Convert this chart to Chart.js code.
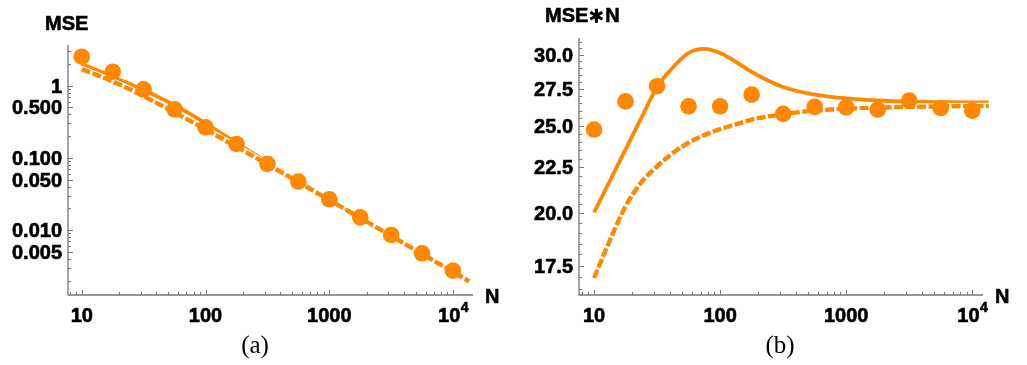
<!DOCTYPE html>
<html>
<head>
<meta charset="utf-8">
<script src="https://cdn.jsdelivr.net/npm/chart.js@4.4.1/dist/chart.umd.min.js"></script>
<style>
  body { margin: 0; background: #fff; }
  #wrap { position: relative; width: 1027px; height: 365px; overflow: hidden; }
  #cvA { position: absolute; left: 0; top: 0; }
  #cvB { position: absolute; left: 500px; top: 0; }
  .cap { position: absolute; top: 331px; width: 60px; text-align: center; font: 25px "Liberation Serif", serif; color: #000; }
</style>
</head>
<body>
<div id="wrap">
  <canvas id="cvA" width="500" height="365"></canvas>
  <canvas id="cvB" width="527" height="365"></canvas>
  <div class="cap" style="left:225px">(a)</div>
  <div class="cap" style="left:750px">(b)</div>
</div>
<script>
// Datos
const nPuntos = [10, 17.78, 31.62, 56.23, 100, 177.8, 316.2, 562.3, 1000, 1778, 3162, 5623, 10000];
const mseSim = [2.52, 1.56, 0.89, 0.471, 0.265, 0.156, 0.0824, 0.0468, 0.0267, 0.0150, 0.00855, 0.00477, 0.00274];
const mseNSim = [24.77, 26.62, 27.67, 26.29, 26.29, 27.08, 25.78, 26.25, 26.22, 26.06, 26.67, 26.17, 26.0];

const nCurva = [10, 13.34, 17.78, 23.71, 31.62, 42.17, 56.23, 74.99, 100, 133.4, 177.8, 237.1, 316.2, 421.7, 562.3, 749.9, 1000, 1778, 3162, 5623, 10000, 13500];
// curvas del panel (a)
const mseTeoria = [2.0, 1.63, 1.325, 1.077, 0.873, 0.688, 0.536, 0.406, 0.301, 0.2208, 0.1614, 0.1185, 0.0873, 0.0647, 0.0482, 0.0359, 0.0268, 0.0150, 0.00841, 0.00473, 0.002655, 0.00197];
const mseAsint = [1.695, 1.399, 1.145, 0.913, 0.713, 0.553, 0.426, 0.326, 0.248, 0.1882, 0.1429, 0.108, 0.0815, 0.0614, 0.0463, 0.0348, 0.0261, 0.01474, 0.0083, 0.00467, 0.00263, 0.00195];
// curvas del panel (b)
const mseNTeoria = [20.04, 21.72, 23.55, 25.52, 27.62, 29.03, 30.13, 30.44, 30.12, 29.45, 28.7, 28.1, 27.62, 27.3, 27.08, 26.93, 26.83, 26.68, 26.6, 26.57, 26.55, 26.55];
const mseNAsint = [16.95, 18.66, 20.36, 21.64, 22.55, 23.33, 23.95, 24.42, 24.8, 25.1, 25.41, 25.61, 25.76, 25.9, 26.0, 26.07, 26.13, 26.2, 26.25, 26.28, 26.3, 26.3];

// Ejes y etiquetas
const xTicks = [10, 100, 1000, 10000];
const xTickLabels = ['10', '100', '1000', '10^4'];
const yTicksA = [1, 0.5, 0.1, 0.05, 0.01, 0.005];
const yTickLabelsA = ['1', '0.500', '0.100', '0.050', '0.010', '0.005'];
const yTicksB = [17.5, 20, 22.5, 25, 27.5, 30];
const yTickLabelsB = ['17.5', '20.0', '22.5', '25.0', '27.5', '30.0'];

const NARANJA = 'rgb(255,136,0)';
const FUENTE = 'bold 20px "Liberation Sans", Arial, sans-serif';

function pares(xs, ys) {
    return xs.map((x, i) => ({ x: x, y: ys[i] }));
}

function menoresLog(min, max, mayores) {
    const res = [];
    for (let d = -4; d <= 5; d++) {
        for (let k = 1; k <= 9; k++) {
            const v = k * Math.pow(10, d);
            if (v >= min && v <= max && !mayores.some(m => Math.abs(m - v) / v < 1e-6)) res.push(v);
        }
    }
    return res;
}

function menoresLin(min, max, paso, mayores) {
    const res = [];
    for (let v = Math.ceil(min / paso) * paso; v <= max; v += paso) {
        if (!mayores.some(m => Math.abs(m - v) < 1e-6)) res.push(v);
    }
    return res;
}

// texto un poco más grueso, como en la figura original
function textoGrueso(ctx, txt, x, y) {
    ctx.fillText(txt, x, y);
    ctx.strokeText(txt, x, y);
}

// Plugin que dibuja ejes estilo Mathematica (marcas hacia dentro)
const ejesPlugin = {
    id: 'ejes',
    afterDraw(chart, args, opts) {
        const ctx = chart.ctx;
        const xs = chart.scales.x, ys = chart.scales.y;
        const a = chart.chartArea;
        ctx.save();
        ctx.strokeStyle = '#777';
        ctx.lineWidth = 1.3;
        ctx.beginPath();
        ctx.moveTo(a.left, a.top);
        ctx.lineTo(a.left, a.bottom);
        ctx.lineTo(a.right, a.bottom);
        ctx.stroke();

        ctx.lineWidth = 1;
        ctx.beginPath();
        xTicks.forEach(v => {
            const px = Math.round(xs.getPixelForValue(v)) + 0.5;
            ctx.moveTo(px, a.bottom); ctx.lineTo(px, a.bottom - 5);
        });
        menoresLog(xs.min, xs.max, xTicks).forEach(v => {
            const px = Math.round(xs.getPixelForValue(v)) + 0.5;
            ctx.moveTo(px, a.bottom); ctx.lineTo(px, a.bottom - 3);
        });
        opts.yTicks.forEach(v => {
            const py = Math.round(ys.getPixelForValue(v)) + 0.5;
            ctx.moveTo(a.left, py); ctx.lineTo(a.left + 5, py);
        });
        opts.yMenores.forEach(v => {
            const py = Math.round(ys.getPixelForValue(v)) + 0.5;
            ctx.moveTo(a.left, py); ctx.lineTo(a.left + 3, py);
        });
        ctx.stroke();

        ctx.fillStyle = '#000';
        ctx.strokeStyle = '#000';
        ctx.lineWidth = 0.6;
        ctx.font = FUENTE;
        ctx.textBaseline = 'alphabetic';
        xTicks.forEach((v, i) => {
            const px = xs.getPixelForValue(v);
            const lab = xTickLabels[i];
            if (lab.indexOf('^') > 0) {
                const [b, e] = lab.split('^');
                ctx.font = FUENTE;
                const wb = ctx.measureText(b).width;
                ctx.font = 'bold 14px "Liberation Sans", Arial, sans-serif';
                const we = ctx.measureText(e).width;
                const x0 = px - (wb + we) / 2;
                ctx.textAlign = 'left';
                textoGrueso(ctx, e, x0 + wb + 0.5, a.bottom + 17);
                ctx.font = FUENTE;
                textoGrueso(ctx, b, x0, a.bottom + 26.5);
            } else {
                ctx.textAlign = 'center';
                textoGrueso(ctx, lab, px, a.bottom + 26.5);
            }
        });
        ctx.textAlign = 'right';
        opts.yTicks.forEach((v, i) => {
            const py = ys.getPixelForValue(v);
            textoGrueso(ctx, opts.yLabels[i], a.left - 6, py + 7);
        });
        ctx.textAlign = 'left';
        textoGrueso(ctx, opts.titulo, opts.tituloX, opts.tituloY);
        textoGrueso(ctx, 'N', a.right + 12, a.bottom + 7.5);
        ctx.restore();
    }
};

function crearPanel(id, cfg) {
    const ctx = document.getElementById(id).getContext('2d');
    return new Chart(ctx, {
        type: 'scatter',
        data: {
            datasets: [
                { data: cfg.puntos, showLine: false, pointRadius: 8.3, pointHoverRadius: 8.3, backgroundColor: NARANJA, borderWidth: 0, order: 0, clip: false },
                { data: cfg.asint, showLine: true, pointRadius: 0, borderColor: NARANJA, borderWidth: 4.4, borderDash: [9, 2.5], cubicInterpolationMode: 'monotone', order: 1, clip: false },
                { data: cfg.asint, showLine: true, pointRadius: 0, borderColor: '#fff', borderWidth: 6.5, cubicInterpolationMode: 'monotone', order: 2, clip: false },
                { data: cfg.teoria, showLine: true, pointRadius: 0, borderColor: NARANJA, borderWidth: 3.8, cubicInterpolationMode: 'monotone', order: 3, clip: false }
            ]
        },
        options: {
            responsive: false,
            devicePixelRatio: 1,
            animation: false,
            layout: { padding: cfg.padding },
            plugins: {
                legend: { display: false },
                tooltip: { enabled: false },
                ejes: cfg.ejes
            },
            scales: {
                x: { type: 'logarithmic', min: cfg.xMin, max: cfg.xMax, display: false },
                y: { type: 'logarithmic', min: cfg.yMin, max: cfg.yMax, display: false }
            }
        },
        plugins: [ejesPlugin]
    });
}

crearPanel('cvA', {
    puntos: pares(nPuntos, mseSim),
    teoria: pares(nCurva, mseTeoria),
    asint: pares(nCurva, mseAsint),
    padding: { left: 68, right: 27, top: 45, bottom: 70 },
    xMin: 7.74, xMax: 14500, yMin: 0.00126, yMax: 3.66,
    ejes: {
        yTicks: yTicksA, yLabels: yTickLabelsA,
        yMenores: menoresLog(0.00126, 3.66, yTicksA),
        titulo: 'MSE', tituloX: 45, tituloY: 30
    }
});

crearPanel('cvB', {
    puntos: pares(nPuntos, mseNSim),
    teoria: pares(nCurva, mseNTeoria),
    asint: pares(nCurva, mseNAsint),
    padding: { left: 79, right: 44, top: 38, bottom: 70 },
    xMin: 7.6, xMax: 12160, yMin: 16.23, yMax: 31.3,
    ejes: {
        yTicks: yTicksB, yLabels: yTickLabelsB,
        yMenores: menoresLin(16.3, 31.3, 0.5, yTicksB),
        titulo: 'MSE\u2217N', tituloX: 45, tituloY: 22
    }
});
</script>
</body>
</html>
